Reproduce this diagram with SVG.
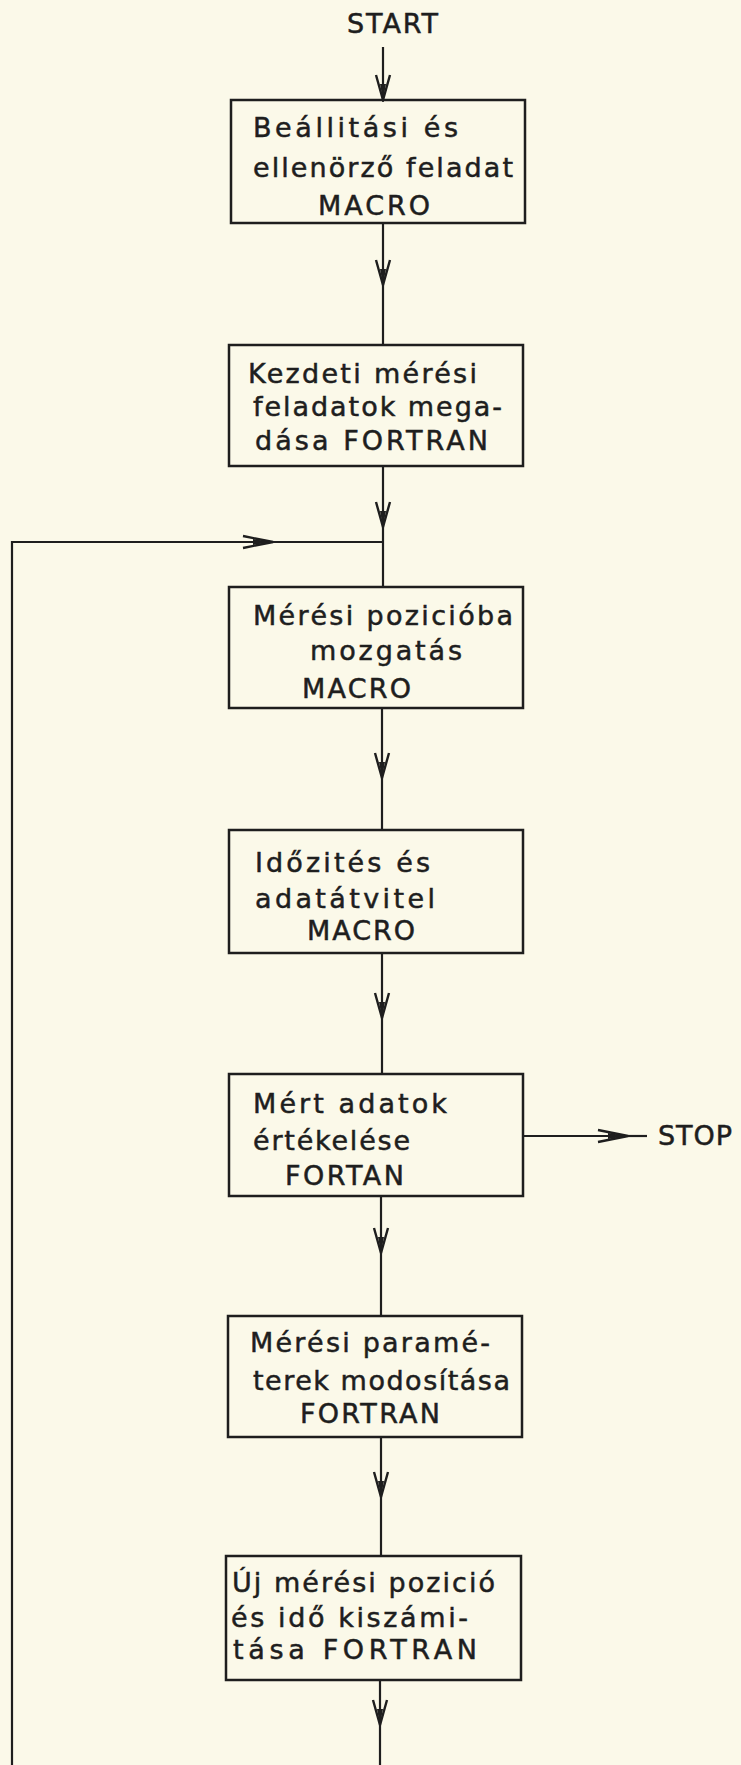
<svg xmlns="http://www.w3.org/2000/svg" width="741" height="1765" viewBox="0 0 741 1765">
  <defs>
    <style>
      .box { fill: none; stroke: #1e1e1e; stroke-width: 2.5; }
      .ln { fill: none; stroke: #1e1e1e; stroke-width: 2.2; }
      .t { font-family: "DejaVu Sans", "Liberation Sans", sans-serif; font-size: 27px; fill: #1e1e1e; stroke: #1e1e1e; stroke-width: 0.5; }
    </style>
    <marker id="av" markerUnits="userSpaceOnUse" viewBox="-27 -9 29 18" markerWidth="29" markerHeight="18" refX="0" refY="0" orient="auto">
      <path d="M-25,-7 L0,0 L-25,7" fill="none" stroke="#1e1e1e" stroke-width="2.4"/>
      <path d="M-16,-3 L0,0 L-16,3 Z" fill="#1e1e1e"/>
    </marker>
    <marker id="ah" markerUnits="userSpaceOnUse" viewBox="-32 -9 34 18" markerWidth="34" markerHeight="18" refX="0" refY="0" orient="auto">
      <path d="M-30,-6 L0,0 L-30,6" fill="none" stroke="#1e1e1e" stroke-width="2.4"/>
      <path d="M-20,-3 L0,0 L-20,3 Z" fill="#1e1e1e"/>
    </marker>
  </defs>
  <rect x="0" y="0" width="741" height="1765" fill="#fbf9e9"/>

  <g id="connectors">
    <path class="ln" d="M383,47 L383,100" marker-end="url(#av)"/>
    <path class="ln" d="M383,223 L383,285" marker-end="url(#av)"/>
    <path class="ln" d="M383,285 L383,345"/>
    <path class="ln" d="M383,466 L383,527" marker-end="url(#av)"/>
    <path class="ln" d="M383,527 L383,587"/>
    <path class="ln" d="M12,1765 L12,542 L273,542" marker-end="url(#ah)"/>
    <path class="ln" d="M273,542 L383,542"/>
    <path class="ln" d="M382,708 L382,778" marker-end="url(#av)"/>
    <path class="ln" d="M382,778 L382,830"/>
    <path class="ln" d="M382,953 L382,1018" marker-end="url(#av)"/>
    <path class="ln" d="M382,1018 L382,1074"/>
    <path class="ln" d="M523,1136 L628,1136" marker-end="url(#ah)"/>
    <path class="ln" d="M628,1136 L647,1136"/>
    <path class="ln" d="M381,1196 L381,1253" marker-end="url(#av)"/>
    <path class="ln" d="M381,1253 L381,1316"/>
    <path class="ln" d="M381,1437 L381,1497" marker-end="url(#av)"/>
    <path class="ln" d="M381,1497 L381,1556"/>
    <path class="ln" d="M380,1680 L380,1725" marker-end="url(#av)"/>
    <path class="ln" d="M380,1725 L380,1765"/>
  </g>

  <g id="start">
    <text class="t" x="347" y="33" textLength="91" lengthAdjust="spacing">START</text>
  </g>

  <g id="stop">
    <text class="t" x="658" y="1145" textLength="74" lengthAdjust="spacing">STOP</text>
  </g>

  <g id="node1">
    <rect class="box" x="231" y="100" width="294" height="123"/>
    <text class="t" x="253" y="137" textLength="205" lengthAdjust="spacing">Beállitási és</text>
    <text class="t" x="253" y="177" textLength="260" lengthAdjust="spacing">ellenörző feladat</text>
    <text class="t" x="318" y="215" textLength="112" lengthAdjust="spacing">MACRO</text>
  </g>

  <g id="node2">
    <rect class="box" x="229" y="345" width="294" height="121"/>
    <text class="t" x="248" y="383" textLength="229" lengthAdjust="spacing">Kezdeti mérési</text>
    <text class="t" x="253" y="416" textLength="249" lengthAdjust="spacing">feladatok mega-</text>
    <text class="t" x="255" y="450" textLength="233" lengthAdjust="spacing">dása FORTRAN</text>
  </g>

  <g id="node3">
    <rect class="box" x="229" y="587" width="294" height="121"/>
    <text class="t" x="253" y="625" textLength="260" lengthAdjust="spacing">Mérési pozicióba</text>
    <text class="t" x="310" y="660" textLength="152" lengthAdjust="spacing">mozgatás</text>
    <text class="t" x="302" y="698" textLength="109" lengthAdjust="spacing">MACRO</text>
  </g>

  <g id="node4">
    <rect class="box" x="229" y="830" width="294" height="123"/>
    <text class="t" x="255" y="872" textLength="175" lengthAdjust="spacing">Időzités és</text>
    <text class="t" x="255" y="908" textLength="180" lengthAdjust="spacing">adatátvitel</text>
    <text class="t" x="307" y="940" textLength="108" lengthAdjust="spacing">MACRO</text>
  </g>

  <g id="node5">
    <rect class="box" x="229" y="1074" width="294" height="122"/>
    <text class="t" x="253" y="1113" textLength="194" lengthAdjust="spacing">Mért adatok</text>
    <text class="t" x="253" y="1150" textLength="157" lengthAdjust="spacing">értékelése</text>
    <text class="t" x="285" y="1185" textLength="119" lengthAdjust="spacing">FORTAN</text>
  </g>

  <g id="node6">
    <rect class="box" x="228" y="1316" width="294" height="121"/>
    <text class="t" x="250" y="1352" textLength="240" lengthAdjust="spacing">Mérési paramé-</text>
    <text class="t" x="253" y="1390" textLength="257" lengthAdjust="spacing">terek modosítása</text>
    <text class="t" x="300" y="1423" textLength="140" lengthAdjust="spacing">FORTRAN</text>
  </g>

  <g id="node7">
    <rect class="box" x="226" y="1556" width="295" height="124"/>
    <text class="t" x="232" y="1592" textLength="263" lengthAdjust="spacing">Új mérési pozició</text>
    <text class="t" x="231" y="1627" textLength="237" lengthAdjust="spacing">és idő kiszámi-</text>
    <text class="t" x="233" y="1659" textLength="244" lengthAdjust="spacing">tása  FORTRAN</text>
  </g>
</svg>
